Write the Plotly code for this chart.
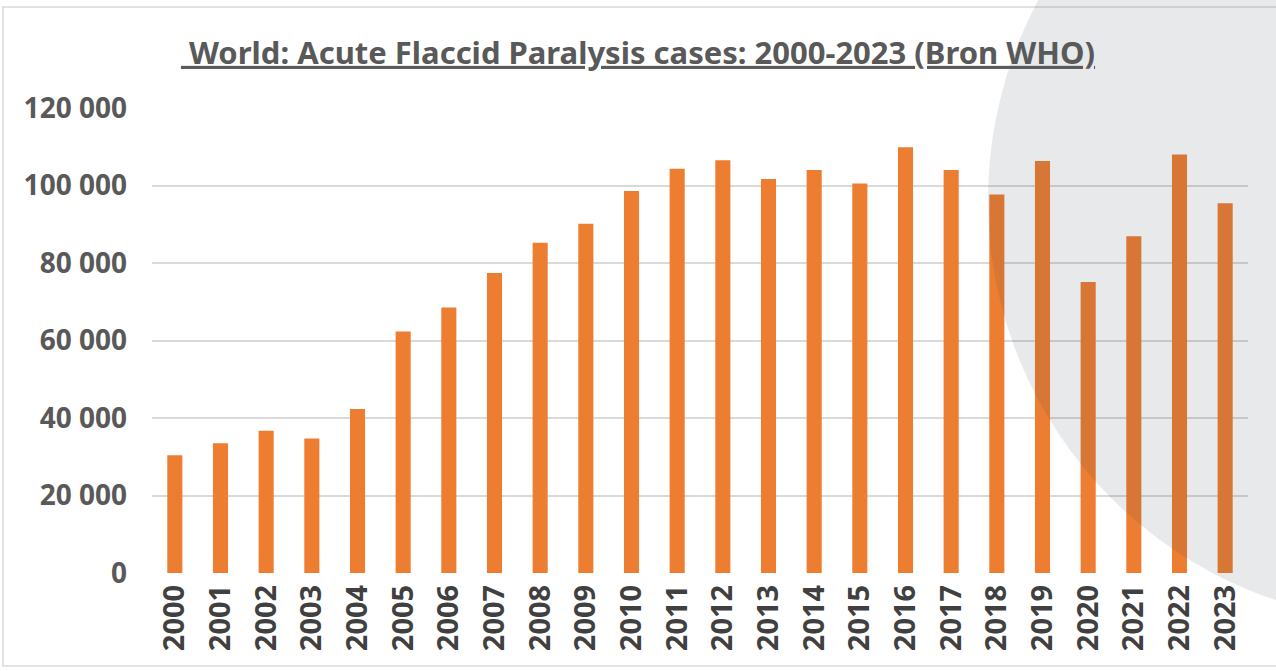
import plotly.graph_objects as go

# Data
years = [str(y) for y in range(2000, 2024)]
afp_cases = [
    30400, 33500, 36700, 34700, 42300, 62300, 68500, 77400, 85200, 90100,
    98600, 104300, 106500, 101700, 104000, 100500, 109900, 104000, 97700,
    106300, 75100, 86900, 108000, 95400,
]
y_ticks = [0, 20000, 40000, 60000, 80000, 100000, 120000]
y_tick_labels = ["0", "20 000", "40 000", "60 000", "80 000", "100 000", "120 000"]

title_text = "World: Acute Flaccid Paralysis cases: 2000-2023 (Bron WHO)"

W, H = 1276, 671
L, R, T, B = 152, 28, 108, 98
pw, ph = W - L - R, H - T - B


def px_x(x):
    return (x - L) / pw


def px_y(y):
    return 1 - (y - T) / ph


fig = go.Figure()

fig.add_trace(
    go.Bar(
        x=years,
        y=afp_cases,
        marker=dict(color="#ED7D31", line=dict(width=0)),
        hoverinfo="x+y",
    )
)

# light frame around the slide and the grey decorative circle
fig.add_shape(
    type="rect", xref="paper", yref="paper",
    x0=px_x(3), x1=px_x(1290), y0=px_y(666), y1=px_y(7),
    line=dict(color="#D9D9D9", width=1.5), fillcolor="rgba(0,0,0,0)",
    layer="below",
)
fig.add_shape(
    type="circle", xref="paper", yref="paper",
    x0=px_x(988), x1=px_x(1832), y0=px_y(622), y1=px_y(-222),
    line=dict(width=0), fillcolor="rgba(60,70,80,0.12)",
    layer="above",
)

fig.update_layout(
    width=W,
    height=H,
    margin=dict(l=L, r=R, t=T, b=B),
    paper_bgcolor="white",
    plot_bgcolor="white",
    bargap=0.67,
    showlegend=False,
    title=dict(
        text="<u>\u00a0" + title_text + "</u>",
        x=0.5,
        xref="container",
        xanchor="center",
        y=1 - 53 / H,
        yref="container",
        yanchor="middle",
        font=dict(family="Noto Sans", size=31, color="#595959", weight="bold"),
    ),
    font=dict(family="Noto Sans", color="#595959"),
)

fig.update_xaxes(
    type="category",
    tickangle=-90,
    tickfont=dict(family="Noto Sans", size=29, color="#404040", weight="bold"),
    showgrid=False,
    showline=False,
    ticks="",
    ticklabelstandoff=5,
)
fig.update_yaxes(
    range=[0, 120000],
    tickvals=y_ticks,
    ticktext=y_tick_labels,
    tickfont=dict(family="Noto Sans", size=28, color="#595959", weight="bold"),
    showgrid=True,
    gridcolor="#D9D9D9",
    gridwidth=2,
    zeroline=False,
    showline=False,
    ticks="",
    ticklabelstandoff=24,
)

# drop the browser's default body margin so the figure sits at the page corner
fig.write_html(
    "out.html",
    config={"displayModeBar": False},
    post_script="document.body.style.margin = '0';",
)
